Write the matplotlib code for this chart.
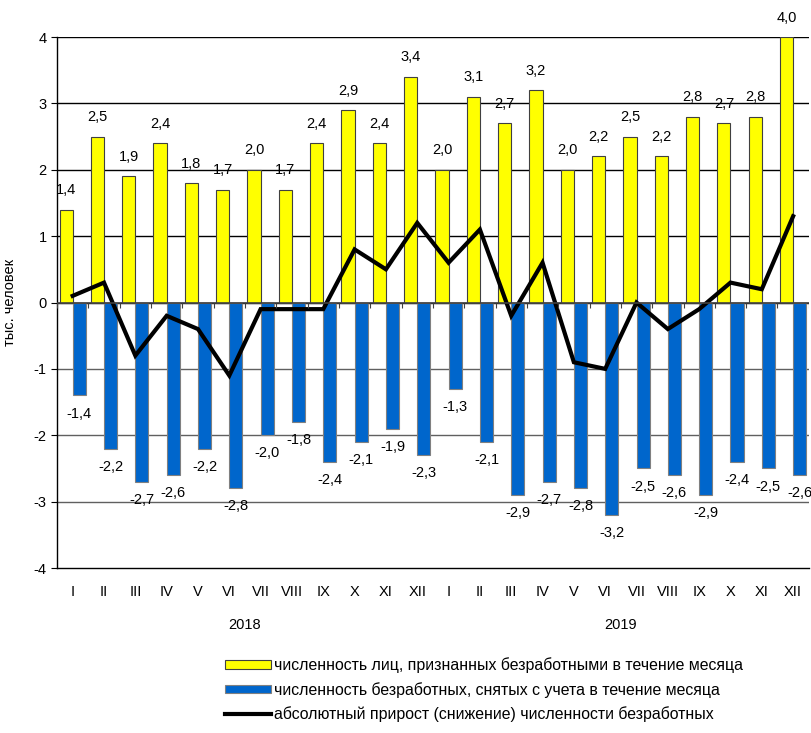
import matplotlib

matplotlib.use("Agg")
import matplotlib.pyplot as plt
import numpy as np
from matplotlib.lines import Line2D
from matplotlib.patches import Patch

plt.rcParams["font.family"] = ["Liberation Sans", "DejaVu Sans"]
plt.rcParams["axes.unicode_minus"] = False

MONTHS = ["I", "II", "III", "IV", "V", "VI", "VII", "VIII", "IX", "X", "XI", "XII"] * 2
YEARS = ["2018", "2019"]
REGISTERED = [1.4, 2.5, 1.9, 2.4, 1.8, 1.7, 2.0, 1.7, 2.4, 2.9, 2.4, 3.4,
              2.0, 3.1, 2.7, 3.2, 2.0, 2.2, 2.5, 2.2, 2.8, 2.7, 2.8, 4.0]
REMOVED = [-1.4, -2.2, -2.7, -2.6, -2.2, -2.8, -2.0, -1.8, -2.4, -2.1, -1.9, -2.3,
           -1.3, -2.1, -2.9, -2.7, -2.8, -3.2, -2.5, -2.6, -2.9, -2.4, -2.5, -2.6]
NET = [0.1, 0.3, -0.8, -0.2, -0.4, -1.1, -0.1, -0.1, -0.1, 0.8, 0.5, 1.2,
       0.6, 1.1, -0.2, 0.6, -0.9, -1.0, 0.0, -0.4, -0.1, 0.3, 0.2, 1.3]
LEGEND = [
    "численность лиц, признанных безработными в течение месяца",
    "численность безработных, снятых с учета в течение месяца",
    "абсолютный прирост (снижение) численности безработных",
]

C_YEL = "#ffff00"
C_BLUE = "#0066cc"
FS = 10.5


def fmt(v: float) -> str:
    return f"{v:.1f}".replace(".", ",")


fig = plt.figure(figsize=(8.11, 7.33), dpi=100)
ax = fig.add_axes([0.0703, 0.2251, 0.927, 0.7244])

x = np.arange(len(MONTHS))
w = 0.42
ax.bar(x - w / 2, REGISTERED, w, color=C_YEL, edgecolor="#404040", linewidth=0.8, zorder=3)
ax.bar(x + w / 2, REMOVED, w, color=C_BLUE, edgecolor="#808080", linewidth=0.8, zorder=3)
ax.plot(x, NET, color="black", lw=3, zorder=4, solid_joinstyle="miter")

for xi, v in zip(x, REGISTERED):
    ax.annotate(fmt(v), (xi - w / 2, v), xytext=(0, 9), textcoords="offset points",
                ha="center", va="bottom", fontsize=FS, annotation_clip=False)
for xi, v in zip(x, REMOVED):
    ax.annotate(fmt(v), (xi + w / 2, v), xytext=(0, -8), textcoords="offset points",
                ha="center", va="top", fontsize=FS)

ax.set_xlim(-0.5, len(MONTHS) - 0.5)
ax.set_ylim(-4, 4)
ax.set_yticks(range(-4, 5))
ax.set_xticks(x)
ax.set_xticklabels(MONTHS)
ax.tick_params(axis="x", length=0, pad=12, labelsize=FS)
ax.tick_params(axis="y", length=4, labelsize=FS)

for gy in range(-3, 5):
    ax.axhline(gy, color="#606060" if gy < 0 else "black", lw=1, zorder=1)
ax.axhline(0, color="#404040", lw=1.2, zorder=5)
# small category ticks on the zero line
ax.vlines(np.arange(len(MONTHS) + 1) - 0.5, -0.08, 0, color="#404040", lw=0.8, zorder=5)

for sp in ("top", "right"):
    ax.spines[sp].set_visible(False)
ax.spines["left"].set_linewidth(1)
ax.spines["bottom"].set_linewidth(1)

ax.set_ylabel("тыс. человек", fontsize=FS, labelpad=12)

for i, yr in enumerate(YEARS):
    ax.text(i * 12 + 5.5, -0.095, yr, transform=ax.get_xaxis_transform(),
            ha="center", va="top", fontsize=FS)

handles = [
    Patch(facecolor=C_YEL, edgecolor="#404040", linewidth=0.8),
    Patch(facecolor=C_BLUE, edgecolor="#808080", linewidth=0.8),
    Line2D([0], [0], color="black", lw=3),
]
fig.legend(handles, LEGEND, loc="lower left", bbox_to_anchor=(0.26, -0.005),
           frameon=False, fontsize=11.4, handlelength=2.9, handleheight=0.45,
           handletextpad=0.2, labelspacing=0.55)

fig.savefig("out.png", dpi=100)
